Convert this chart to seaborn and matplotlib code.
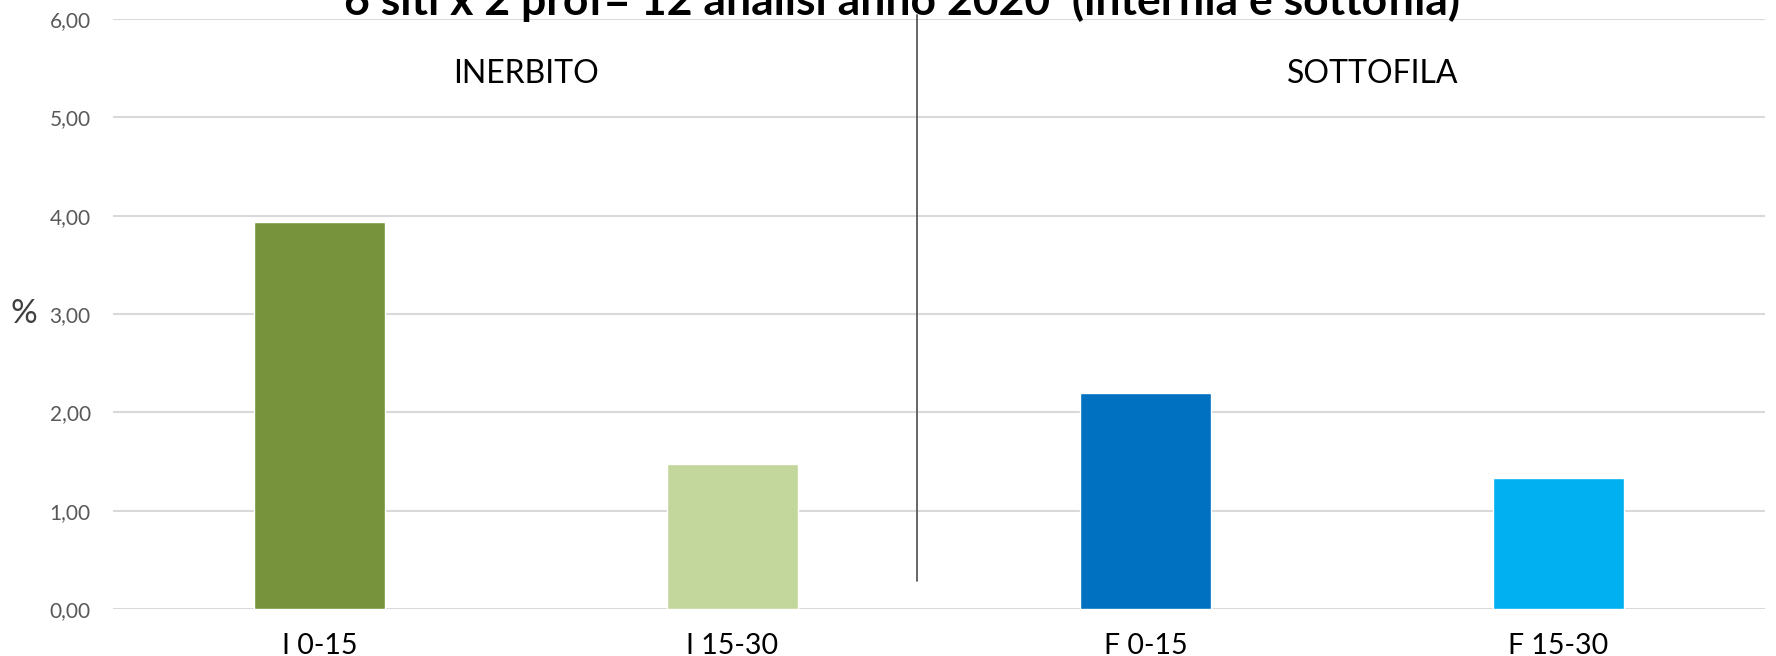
import matplotlib
matplotlib.use("Agg")
import matplotlib.pyplot as plt
import seaborn as sns
import pandas as pd

# Data
categories = ["I 0-15", "I 15-30", "F 0-15", "F 15-30"]
values = [3.94, 1.47, 2.20, 1.33]
colors = ["#77933C", "#C3D69B", "#0070C0", "#00B0F0"]
group_labels = ["INERBITO", "SOTTOFILA"]
y_ticks = [0, 1, 2, 3, 4, 5, 6]
title = "6 siti x 2 prof= 12 analisi anno 2020  (interfila e sottofila)"

sns.set_theme(style="white")
plt.rcParams["font.family"] = ["Lato", "DejaVu Sans"]

df = pd.DataFrame({"campione": categories, "valore": values})

fig = plt.figure(figsize=(17.76, 6.56), dpi=100)
ax = fig.add_axes([0.0636, 0.0716, 0.9302, 0.8994])

sns.barplot(data=df, x="campione", y="valore", hue="campione",
            palette=colors, legend=False, width=0.315, saturation=1,
            ax=ax, zorder=3)

ax.set_xlim(-0.5, 3.5)
ax.set_ylim(0, 6.0)
ax.set_yticks(y_ticks)
ax.set_yticklabels([f"{t:.2f}".replace(".", ",") for t in y_ticks])
ax.yaxis.grid(True, color="#d9d9d9", linewidth=1.5, zorder=0)
ax.set_axisbelow(True)
for s in ax.spines.values():
    s.set_visible(False)
ax.axhline(0, color="#d9d9d9", linewidth=2, zorder=2)

ax.tick_params(axis="y", length=0, pad=16, labelsize=15, labelcolor="#595959")
ax.tick_params(axis="x", length=0, pad=17, labelsize=20.5, labelcolor="black")
ax.set_xlabel("")
ax.set_ylabel("%", rotation=0, fontsize=24, color="#404040", va="center", ha="center")
ax.yaxis.set_label_coords(-0.054, 0.5)

# divider between the two groups
div_x = 1.447
ax.plot([div_x, div_x], [0.29, 6.04], color="#595959", linewidth=1.3,
        clip_on=False, zorder=4)

# group headings
ax.text(0.5, 5.44, group_labels[0], ha="center", va="center", fontsize=23, color="black")
ax.text(2.55, 5.44, group_labels[1], ha="center", va="center", fontsize=23, color="black")

fig.text(0.508, 1 - 15 / 656, title, ha="center", va="baseline",
         fontsize=32, fontweight="bold", color="black")

fig.savefig("out.png", dpi=100)
